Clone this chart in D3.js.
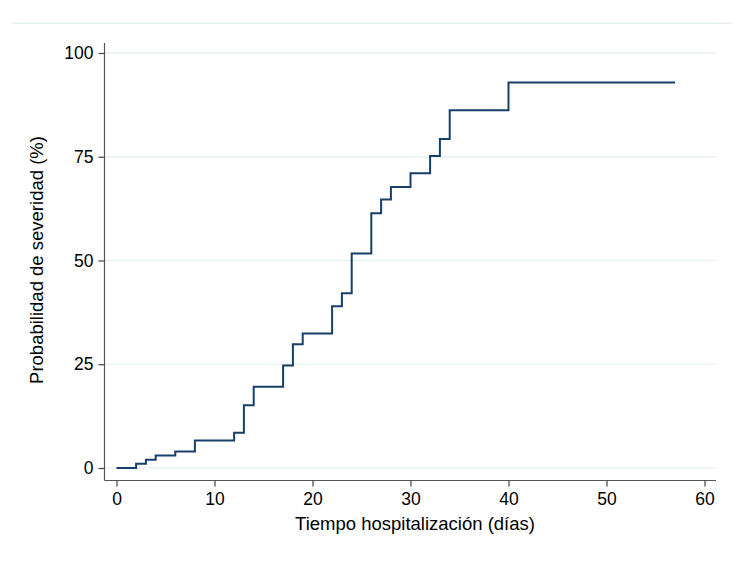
<!DOCTYPE html>
<html>
<head>
<meta charset="utf-8">
<script src="https://cdn.jsdelivr.net/npm/d3@7"></script>
<style>
  html, body { margin: 0; padding: 0; background: #fff; }
  svg { display: block; font-family: "Liberation Sans", Arial, sans-serif; }
</style>
</head>
<body>
<svg id="chart" width="750" height="571"></svg>
<script>
// Data: Kaplan-Meier style cumulative probability (step function)
const days = [0, 2, 3, 4, 6, 8, 12, 13, 14, 17, 18, 19, 22, 23, 24, 26, 27, 28, 30, 32, 33, 34, 40, 57];
const probability = [0, 1.0, 2.0, 3.0, 4.0, 6.6, 8.5, 15.1, 19.6, 24.7, 29.8, 32.4, 39.0, 42.1, 51.7, 61.4, 64.7, 67.7, 71.0, 75.2, 79.3, 86.2, 92.9, 92.9];
const xTicks = [0, 10, 20, 30, 40, 50, 60];
const yTicks = [0, 25, 50, 75, 100];
const xTitle = "Tiempo hospitalización (días)";
const yTitle = "Probabilidad de severidad (%)";

const svg = d3.select("#chart");

const x = d3.scaleLinear().domain([0, 60]).range([116.5, 704.5]);
const y = d3.scaleLinear().domain([0, 100]).range([468, 53]);

const plotLeft = 104.5, plotRight = 716, plotTop = 43, plotBottom = 480.5;

// outer region top border
svg.append("line")
  .attr("x1", 12).attr("x2", 732)
  .attr("y1", 23.3).attr("y2", 23.3)
  .attr("stroke", "#e6eeee").attr("stroke-width", 1.5);

// gridlines
svg.append("g").selectAll("line").data(yTicks).join("line")
  .attr("x1", plotLeft).attr("x2", plotRight)
  .attr("y1", d => y(d)).attr("y2", d => y(d))
  .attr("stroke", "#eaf2f3").attr("stroke-width", 1.6);

// Y axis
const yAxis = d3.axisLeft(y).tickValues(yTicks).tickSize(6).tickPadding(5);
const gy = svg.append("g").attr("transform", `translate(${plotLeft},0)`).call(yAxis);
gy.select(".domain").remove();
gy.append("line").attr("x1", 0).attr("x2", 0).attr("y1", plotTop).attr("y2", plotBottom)
  .attr("stroke", "#555").attr("stroke-width", 1.2);
gy.selectAll(".tick line").attr("stroke", "#444").attr("stroke-width", 1.2);
gy.selectAll(".tick text").attr("font-size", 17.5).attr("fill", "#000")
  .attr("font-family", "Liberation Sans, Arial, sans-serif");

// X axis
const xAxis = d3.axisBottom(x).tickValues(xTicks).tickSize(6).tickPadding(6);
const gx = svg.append("g").attr("transform", `translate(0,${plotBottom})`).call(xAxis);
gx.select(".domain").remove();
gx.append("line").attr("x1", plotLeft).attr("x2", plotRight).attr("y1", 0).attr("y2", 0)
  .attr("stroke", "#555").attr("stroke-width", 1.2);
gx.selectAll(".tick line").attr("stroke", "#444").attr("stroke-width", 1.2);
gx.selectAll(".tick text").attr("font-size", 17.5).attr("fill", "#000")
  .attr("font-family", "Liberation Sans, Arial, sans-serif");

// step line
const pts = days.map((d, i) => [d, probability[i]]);
const line = d3.line().x(d => x(d[0])).y(d => y(d[1])).curve(d3.curveStepAfter);
svg.append("path").datum(pts)
  .attr("d", line)
  .attr("fill", "none")
  .attr("stroke", "#163f6a")
  .attr("stroke-width", 2);

// axis titles
svg.append("text")
  .attr("x", 415).attr("y", 530)
  .attr("text-anchor", "middle")
  .attr("font-size", 18.5).attr("fill", "#000")
  .text(xTitle);

svg.append("text")
  .attr("transform", "translate(43,260) rotate(-90)")
  .attr("text-anchor", "middle")
  .attr("font-size", 18.5).attr("fill", "#000")
  .text(yTitle);
</script>
</body>
</html>
